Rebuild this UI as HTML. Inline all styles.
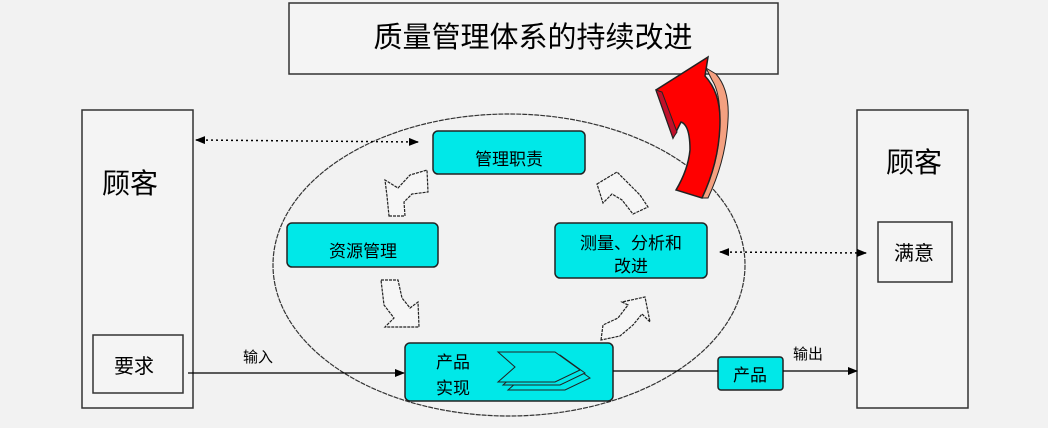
<!DOCTYPE html>
<html><head><meta charset="utf-8"><style>
body{margin:0;background:#f2f2f2;}
svg{display:block;}
text{font-family:"Liberation Sans","Noto Sans CJK SC","WenQuanYi Zen Hei",sans-serif;fill:#000;}
</style></head><body>
<svg width="1048" height="428" viewBox="0 0 1048 428" xmlns="http://www.w3.org/2000/svg">
<defs>
<marker id="ah" markerWidth="10" markerHeight="8" refX="9" refY="4" orient="auto" markerUnits="userSpaceOnUse"><path d="M0,0 L10,4 L0,8 Z" fill="#000"/></marker>
<marker id="ahs" markerWidth="10" markerHeight="8" refX="1" refY="4" orient="auto" markerUnits="userSpaceOnUse"><path d="M10,0 L0,4 L10,8 Z" fill="#000"/></marker>
</defs>
<rect width="1048" height="428" fill="#f2f2f2"/>
<rect x="289" y="3" width="489" height="71" fill="#f4f4f4" stroke="#333" stroke-width="1.5"/>
<text x="533" y="47" font-size="29" text-anchor="middle">质量管理体系的持续改进</text>
<rect x="82" y="110" width="111" height="298" fill="#f4f4f4" stroke="#333" stroke-width="1.5"/>
<text x="130" y="193" font-size="28" text-anchor="middle">顾客</text>
<rect x="93" y="335" width="90" height="58" fill="#f4f4f4" stroke="#333" stroke-width="1.5"/>
<text x="134" y="373" font-size="20" text-anchor="middle">要求</text>
<rect x="857" y="110" width="111" height="298" fill="#f4f4f4" stroke="#333" stroke-width="1.5"/>
<text x="914" y="172" font-size="28" text-anchor="middle">顾客</text>
<rect x="878" y="222" width="74" height="60" fill="#f4f4f4" stroke="#333" stroke-width="1.5"/>
<text x="914" y="260" font-size="20" text-anchor="middle">满意</text>
<ellipse cx="509" cy="265" rx="236" ry="151" fill="none" stroke="#333" stroke-width="1.2" stroke-dasharray="5,1"/>
<rect x="433" y="131" width="152" height="43" rx="5" fill="#00e8e8" stroke="#222" stroke-width="1.5"/>
<text x="509" y="165" font-size="17" text-anchor="middle">管理职责</text>
<rect x="287" y="223" width="151" height="44" rx="5" fill="#00e8e8" stroke="#222" stroke-width="1.5"/>
<text x="363" y="257" font-size="17" text-anchor="middle">资源管理</text>
<rect x="555" y="223" width="152" height="55" rx="5" fill="#00e8e8" stroke="#222" stroke-width="1.5"/>
<text x="631" y="249" font-size="17" text-anchor="middle">测量、分析和</text>
<text x="631" y="272" font-size="17" text-anchor="middle">改进</text>
<rect x="405" y="343" width="208" height="58" rx="5" fill="#00e8e8" stroke="#222" stroke-width="1.5"/>
<text x="453" y="368" font-size="17" text-anchor="middle">产品</text>
<text x="453" y="394" font-size="17" text-anchor="middle">实现</text>
<g fill="#00e8e8" stroke="#222" stroke-width="1">
<polygon points="508,360 565,360 590,378 565,390 508,390 525,375"/>
<polygon points="503,355 560,355 585,373 560,385 503,385 520,370"/>
<polygon points="498,352 555,352 580,370 555,382 498,382 515,367"/>
</g>
<rect x="718" y="357" width="65" height="33" rx="3" fill="#00e8e8" stroke="#222" stroke-width="1.5"/>
<text x="750" y="381" font-size="17" text-anchor="middle">产品</text>
<line x1="196" y1="140" x2="418" y2="142" stroke="#000" stroke-width="1.5" stroke-dasharray="2,3" marker-start="url(#ahs)" marker-end="url(#ah)"/>
<line x1="720" y1="252" x2="866" y2="253" stroke="#000" stroke-width="1.5" stroke-dasharray="2,3" marker-start="url(#ahs)" marker-end="url(#ah)"/>
<line x1="188" y1="373" x2="404" y2="373" stroke="#000" stroke-width="1.2" marker-end="url(#ah)"/>
<text x="258" y="362" font-size="15" text-anchor="middle">输入</text>
<line x1="613" y1="371" x2="718" y2="371" stroke="#000" stroke-width="1.2"/>
<line x1="783" y1="371" x2="857" y2="371" stroke="#000" stroke-width="1.2" marker-end="url(#ah)"/>
<text x="808" y="359" font-size="15" text-anchor="middle">输出</text>
<g fill="#f6f6f6" stroke="#222" stroke-width="1.2" stroke-dasharray="3,1">
<polygon points="389,216 405,216 404,202 412,194 428,192 427,170 410,175 398,188 385,180 387,196"/>
<polygon points="381,280 398,280 402,298 410,308 418,302 419,327 385,327 394,318 384,305"/>
<polygon points="601,340 603,325 618,318 628,305 622,302 645,297 650,322 642,314 633,325 620,336"/>
<polygon points="597,184 617,172 640,195 648,207 633,214 622,200 612,194 603,203"/>
</g>
<path d="M706,68 L716,74 Q730,90 728,120 Q726,160 708,198 L702,198 Q720,160 720,120 Q720,92 712,80 Z" fill="#f4a080" stroke="#222" stroke-width="1"/>
<path d="M708,57 L656,90 L673,138 L681,122 Q690,125 690,150 Q688,170 676,190 L702,198 Q720,160 720,120 Q720,92 705,76 Z" fill="#ff0000" stroke="#222" stroke-width="1.5"/>
<polygon points="656,90 673,138 677,132 662,92" fill="#c0102a" stroke="#222" stroke-width="1"/>
</svg>
</body></html>
